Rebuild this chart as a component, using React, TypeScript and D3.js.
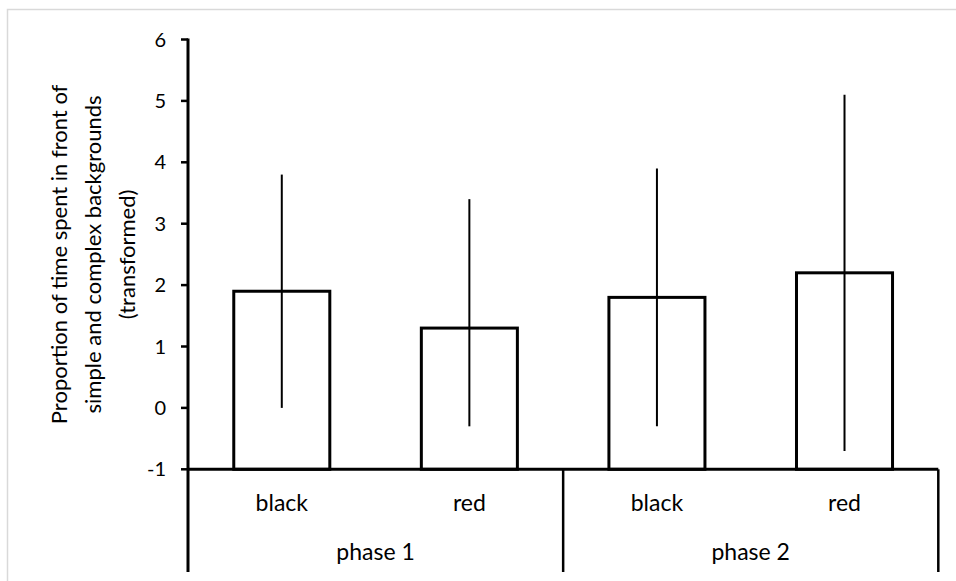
import React from "react";
import * as d3 from "d3";

const categories = ["black", "red", "black", "red"];
const phases = ["phase 1", "phase 2"];
const values = [1.9, 1.3, 1.8, 2.2];
const errLow = [0.0, -0.3, -0.3, -0.7];
const errHigh = [3.8, 3.4, 3.9, 5.1];
const yTicks = [-1, 0, 1, 2, 3, 4, 5, 6];
const titleLines = [
  "Proportion of time spent in front of",
  "simple and complex backgrounds",
  "(transformed)",
];

const W = 956;
const H = 581;
const FONT = "Lato, 'Open Sans', sans-serif";

export default function App() {
  const x0 = 188;
  const x1 = 938.3;
  const y = d3.scaleLinear().domain([-1, 6]).range([469.3, 39.5]);
  const x = d3
    .scaleBand<number>()
    .domain(d3.range(categories.length))
    .range([x0, x1])
    .paddingInner(0.488)
    .paddingOuter(0.244);
  const bottom = 572;
  const base = y(-1);
  const step = x.step();
  const phaseX = d3
    .scaleBand<number>()
    .domain(d3.range(phases.length))
    .range([x0, x1]);

  return (
    <svg
      width={W}
      height={H}
      style={{ position: "absolute", left: 0, top: 0, background: "#fff" }}
      fontFamily={FONT}
    >
      <rect x={7.5} y={9.5} width={W} height={H} fill="#fff" stroke="#d9d9d9" strokeWidth={1.5} />
      {/* bars */}
      {values.map((v, i) => (
        <rect
          key={"b" + i}
          x={x(i)!}
          y={y(v)}
          width={x.bandwidth()}
          height={base - y(v)}
          fill="#fff"
          stroke="#000"
          strokeWidth={3}
        />
      ))}
      {/* error bars */}
      {values.map((v, i) => (
        <line
          key={"e" + i}
          x1={x(i)! + x.bandwidth() / 2}
          x2={x(i)! + x.bandwidth() / 2}
          y1={y(errLow[i])}
          y2={y(errHigh[i])}
          stroke="#000"
          strokeWidth={2}
        />
      ))}
      {/* y axis */}
      <line x1={x0} x2={x0} y1={y(6) - 1} y2={bottom} stroke="#000" strokeWidth={3} />
      {yTicks.map((t) => (
        <g key={"t" + t}>
          <line x1={x0 - 7} x2={x0} y1={y(t)} y2={y(t)} stroke="#000" strokeWidth={2.5} />
          <text x={166} y={y(t)} dy="0.35em" textAnchor="end" fontSize={20} fill="#000">
            {t}
          </text>
        </g>
      ))}
      {/* baseline axis */}
      <line x1={x0} x2={x1} y1={base} y2={base} stroke="#000" strokeWidth={3} />
      <line x1={x1} x2={x1} y1={base} y2={bottom} stroke="#000" strokeWidth={2.5} />
      <line x1={x0 + step * 2} x2={x0 + step * 2} y1={base} y2={bottom} stroke="#000" strokeWidth={2.5} />
      {/* category labels */}
      {categories.map((c, i) => (
        <text
          key={"c" + i}
          x={x(i)! + x.bandwidth() / 2}
          y={510.5}
          textAnchor="middle"
          fontSize={23}
          fill="#000"
        >
          {c}
        </text>
      ))}
      {phases.map((p, i) => (
        <text
          key={"p" + i}
          x={phaseX(i)! + phaseX.bandwidth() / 2}
          y={560}
          textAnchor="middle"
          fontSize={23}
          fill="#000"
        >
          {p}
        </text>
      ))}
      {/* y title */}
      {titleLines.map((l, i) => (
        <text
          key={"y" + i}
          transform={`translate(${67 + i * 34},${(y(6) + base) / 2}) rotate(-90)`}
          textAnchor="middle"
          fontSize={22}
          fill="#000"
        >
          {l}
        </text>
      ))}
    </svg>
  );
}
